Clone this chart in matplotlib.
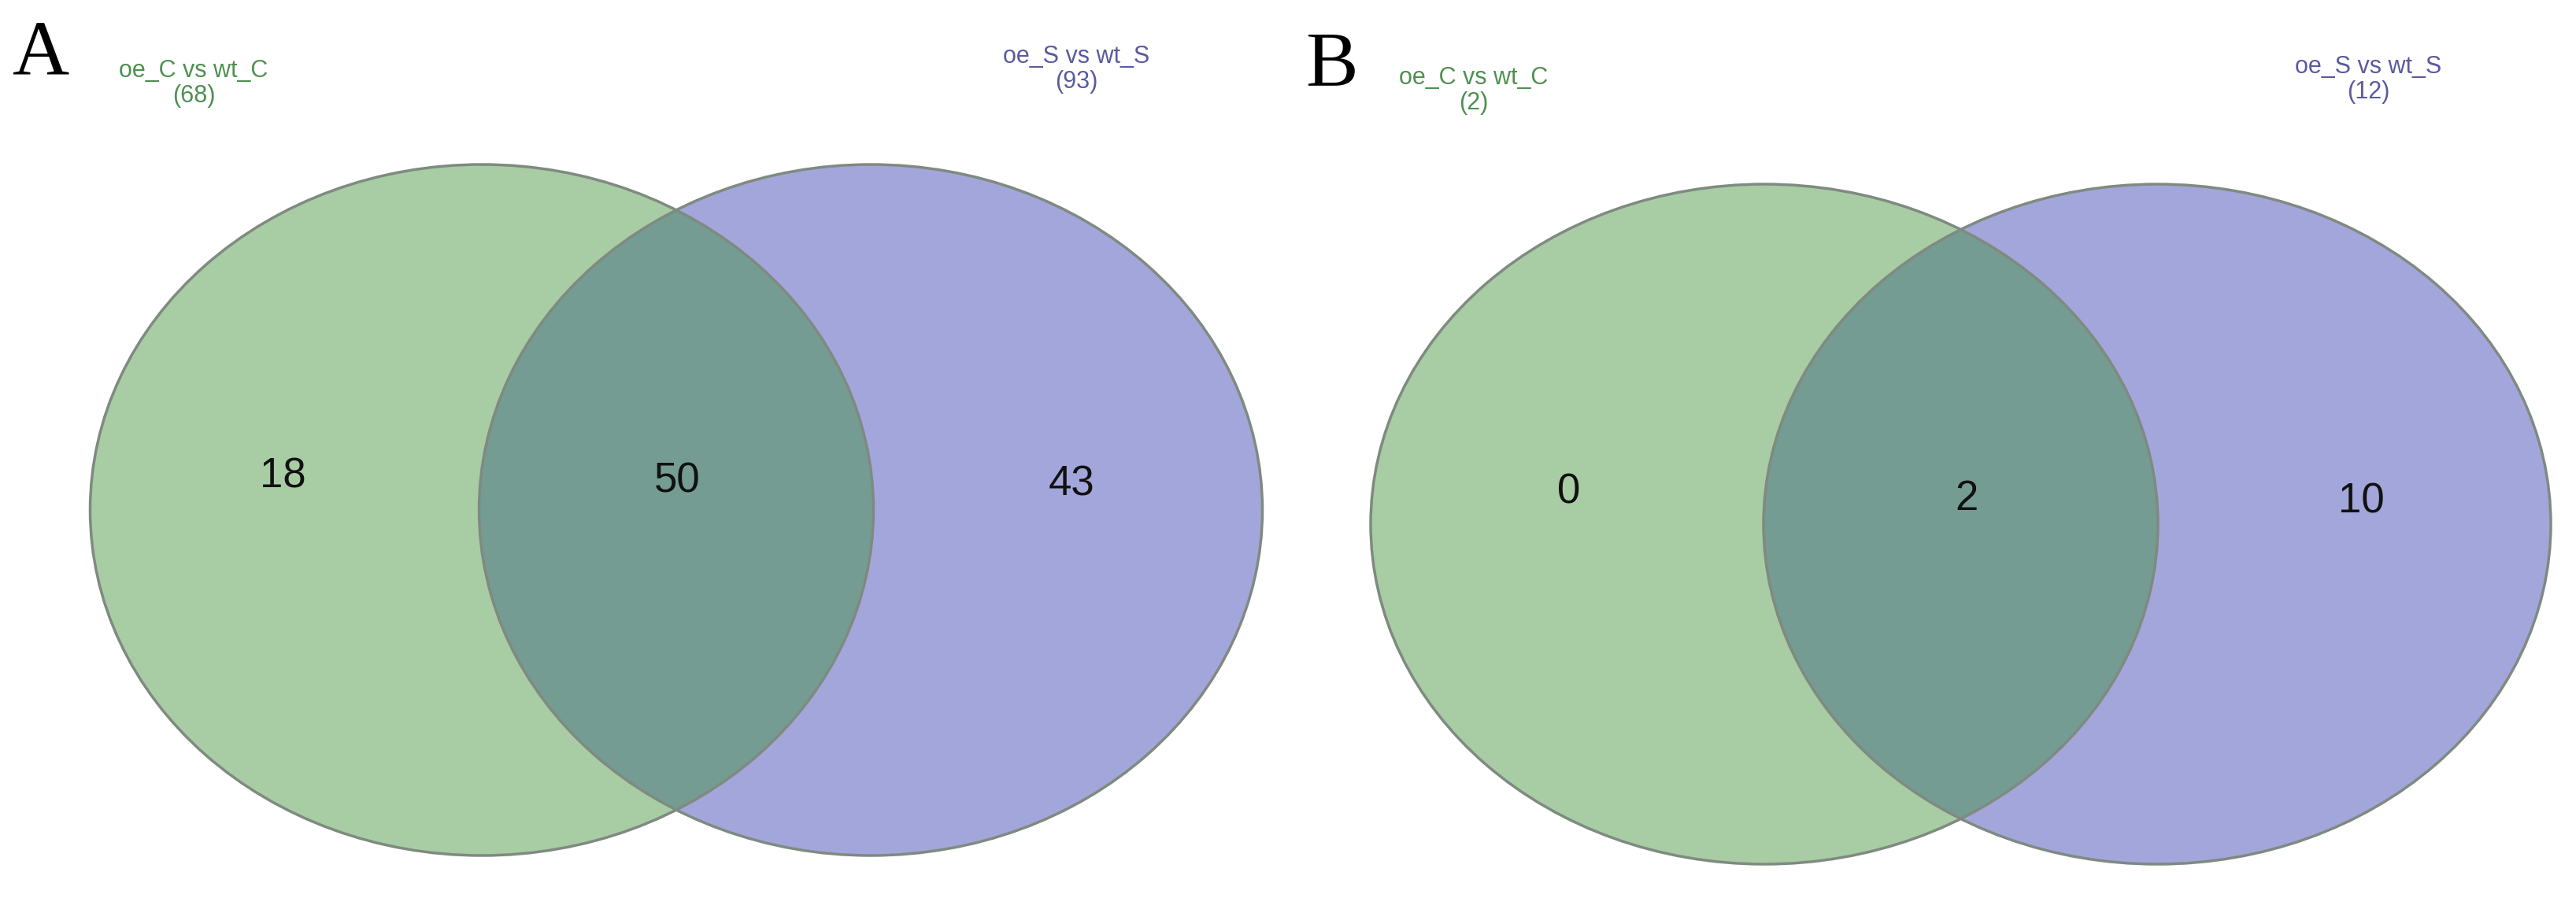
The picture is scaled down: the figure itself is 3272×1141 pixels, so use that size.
import matplotlib
matplotlib.use("Agg")
import matplotlib.pyplot as plt
from matplotlib.patches import Ellipse

panels = ["A", "B"]
set_names = ["oe_C vs wt_C", "oe_S vs wt_S"]
totals_A = [68, 93]
totals_B = [2, 12]
regions_A = [18, 50, 43]   # only C, both, only S
regions_B = [0, 2, 10]

W, H = 3273, 1141
fig = plt.figure(figsize=(W / 100, H / 100), dpi=100)
ax = fig.add_axes([0, 0, 1, 1])
ax.set_xlim(0, W)
ax.set_ylim(H, 0)
ax.axis("off")

GREEN = "#a8cca4"
PURPLE = "#a3a6da"
OVER = "#759c92"
EDGE = "#7f8a80"
GTXT = "#4f9050"
PTXT = "#5a5aa0"

layouts = [
    dict(letter=(16, 94), cg=(612, 648), cp=(1106, 648), w=995, h=878,
         lg=(246, 106), lp=(1367, 88),
         nx=[359, 860, 1361], ny=[605, 612, 616]),
    dict(letter=(1658, 108), cg=(2241, 666), cp=(2740, 666), w=1000, h=864,
         lg=(1872, 115), lp=(3008, 101),
         nx=[1993, 2498, 2999], ny=[626, 634, 637]),
]
totals = [totals_A, totals_B]
regions = [regions_A, regions_B]

for p, lay, tot, reg in zip(panels, layouts, totals, regions):
    eg = Ellipse(lay["cg"], lay["w"], lay["h"], facecolor=GREEN, edgecolor="none", zorder=1)
    ep = Ellipse(lay["cp"], lay["w"], lay["h"], facecolor=PURPLE, edgecolor="none", zorder=1)
    ax.add_patch(eg)
    ax.add_patch(ep)
    eo = Ellipse(lay["cg"], lay["w"], lay["h"], facecolor=OVER, edgecolor="none", zorder=2)
    ax.add_patch(eo)
    eo.set_clip_path(ep)
    for c in (lay["cg"], lay["cp"]):
        ax.add_patch(Ellipse(c, lay["w"], lay["h"], facecolor="none", edgecolor=EDGE,
                             linewidth=2.5, zorder=3))
    ax.text(lay["letter"][0], lay["letter"][1], p, fontsize=72,
            family="Liberation Serif", ha="left", va="baseline", color="black")
    ax.text(lay["lg"][0], lay["lg"][1], f"{set_names[0]}\n({tot[0]})", fontsize=22,
            family="Liberation Sans", color=GTXT, ha="center", va="center", linespacing=1.05)
    ax.text(lay["lp"][0], lay["lp"][1], f"{set_names[1]}\n({tot[1]})", fontsize=22,
            family="Liberation Sans", color=PTXT, ha="center", va="center", linespacing=1.05)
    for x, y, v in zip(lay["nx"], lay["ny"], reg):
        ax.text(x, y, str(v), fontsize=38, family="Liberation Sans", color="#111111",
                ha="center", va="center", zorder=4)

fig.savefig("out.png", dpi=100, facecolor="white")
